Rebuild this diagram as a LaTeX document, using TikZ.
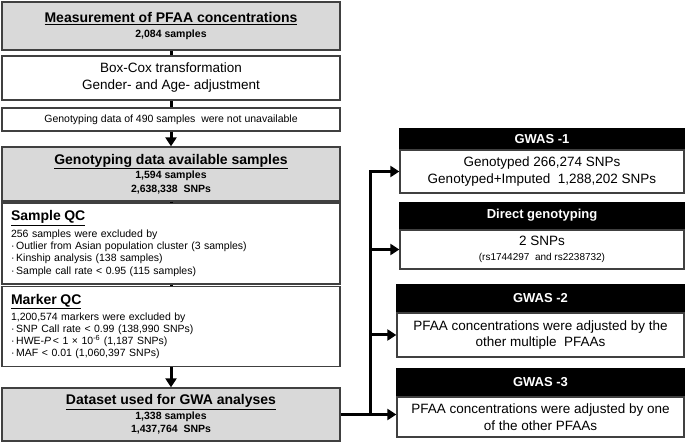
\documentclass[tikz,border=0pt]{standalone}
\usepackage{fontspec}
\setmainfont{Liberation Sans}
\usetikzlibrary{arrows.meta}

\definecolor{boxgray}{HTML}{D9D9D9}
\definecolor{edgegray}{HTML}{404040}

\newcommand{\boxtitle}[1]{{\fontsize{14}{16}\selectfont\bfseries\underline{#1}}}
\newcommand{\boldsmall}[1]{{\fontsize{10.5}{13}\selectfont\bfseries #1}}
\newcommand{\dotitem}{·\,}

\tikzset{
  box/.style={draw=edgegray, line width=1.3pt, minimum width=338pt, inner sep=0pt, align=center},
  graybox/.style={box, fill=boxgray, font=\fontsize{10.5}{13.5}\selectfont},
  qcbox/.style={box, inner xsep=9pt, text width=320pt, align=left, font=\fontsize{10.5}{12.2}\selectfont},
  headbox/.style={fill=black, text=white, inner sep=0pt, font=\fontsize{13}{15}\selectfont\bfseries},
  bodybox/.style={draw=edgegray, line width=1.3pt, fill=white, inner sep=0pt, align=center, font=\fontsize{13.5}{16.5}\selectfont},
  link/.style={line width=3pt},
  arrow/.style={line width=3pt, -{Triangle[length=9pt,width=11pt]}},
}

\begin{document}
\begin{tikzpicture}[x=1pt,y=-1pt]
\useasboundingbox (0,0) rectangle (685,443);

% left column
\node[graybox, minimum height=48pt] (meas) at (171,26) {\boxtitle{Measurement of PFAA concentrations}\\[1pt] \boldsmall{2,084 samples}};
\node[box, minimum height=44pt, font=\fontsize{13.5}{17}\selectfont] (boxcox) at (171,78) {Box-Cox transformation\\Gender- and Age- adjustment};
\node[box, minimum height=23pt, font=\fontsize{10.5}{12}\selectfont] (unavail) at (171,119.5) {Genotyping\ data of 490 samples\ \ were not unavailable};
\node[graybox, minimum height=54pt] (avail) at (171,174) {\boxtitle{Genotyping data available samples}\\[1pt] \boldsmall{1,594 samples}\\ \boldsmall{2,638,338\ \ SNPs}};
\node[qcbox, minimum height=81pt] (sampleqc) at (171,243.5) {\boxtitle{Sample QC}\\[3pt]
256 samples were excluded by\\
\dotitem Outlier from Asian population cluster (3 samples)\\
\dotitem Kinship analysis (138 samples)\\
\dotitem Sample call rate < 0.95 (115 samples)};
\node[qcbox, minimum height=80pt] (markerqc) at (171,326.5) {\boxtitle{Marker QC}\\[3pt]
1,200,574 markers were excluded by\\
\dotitem SNP Call rate < 0.99 (138,990 SNPs)\\
\dotitem HWE-\textit{P}\,< 1 × 10\textsuperscript{-6} (1,187 SNPs)\\
\dotitem MAF < 0.01 (1,060,397 SNPs)};
\node[graybox, minimum height=53pt] (dataset) at (171,414.5) {\boxtitle{Dataset used for GWA analyses}\\[1pt] \boldsmall{1,338 samples}\\ \boldsmall{1,437,764\ \ SNPs}};

% right column
\node[bodybox, minimum width=284pt, minimum height=43pt] (g1body) at (542,171.5) {Genotyped 266,274 SNPs\\Genotyped+Imputed\ \ 1,288,202 SNPs};
\node[headbox, minimum width=285.3pt, minimum height=21pt, anchor=south] (g1head) at (g1body.north) {GWAS -1};
\node[bodybox, minimum width=284pt, minimum height=39pt] (dbody) at (542,249.5) {2 SNPs\\[-2pt]{\fontsize{10}{12}\selectfont (rs1744297\ \ and rs2238732)}};
\node[headbox, minimum width=285.3pt, minimum height=27pt, anchor=south] (dhead) at (dbody.north) {Direct genotyping};
\node[bodybox, minimum width=287pt, minimum height=44pt] (g2body) at (540.5,335) {PFAA concentrations were adjusted by the\\other multiple\ \ PFAAs};
\node[headbox, minimum width=288.3pt, minimum height=28pt, anchor=south] (g2head) at (g2body.north) {GWAS -2};
\node[bodybox, minimum width=287pt, minimum height=40pt] (g3body) at (540.5,417) {PFAA concentrations were adjusted by one\\of the other PFAAs};
\node[headbox, minimum width=288.3pt, minimum height=28pt, anchor=south] (g3head) at (g3body.north) {GWAS -3};

% connectors
\draw[link] (meas.south) -- (boxcox.north);
\draw[link] (boxcox.south) -- (unavail.north);
\draw[arrow] (unavail.south) -- (avail.north);
\draw[link] (avail.south) -- (sampleqc.north);
\draw[link] (sampleqc.south) -- (markerqc.north);
\draw[arrow] (markerqc.south) -- (dataset.north);

\coordinate (trunk) at (370,414.5);
\draw[arrow] (dataset.east) -- (dataset.east -| g3body.west);
\draw[arrow] (trunk) |- (g1body.west);
\draw[arrow] (trunk |- dbody.west) -- (dbody.west);
\draw[arrow] (trunk |- g2body.west) -- (g2body.west);
\end{tikzpicture}
\end{document}
